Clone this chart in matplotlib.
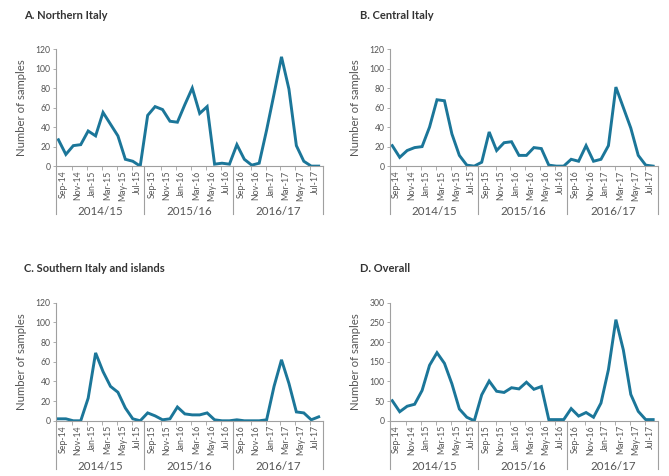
"""Monthly number of samples by area, Italy, Sep 2014 - Aug 2017."""

import matplotlib.pyplot as plt

plt.rcParams["font.family"] = ["Lato", "DejaVu Sans"]

months = [
    "Sep-14", "Oct-14", "Nov-14", "Dec-14", "Jan-15", "Feb-15",
    "Mar-15", "Apr-15", "May-15", "Jun-15", "Jul-15", "Aug-15",
    "Sep-15", "Oct-15", "Nov-15", "Dec-15", "Jan-16", "Feb-16",
    "Mar-16", "Apr-16", "May-16", "Jun-16", "Jul-16", "Aug-16",
    "Sep-16", "Oct-16", "Nov-16", "Dec-16", "Jan-17", "Feb-17",
    "Mar-17", "Apr-17", "May-17", "Jun-17", "Jul-17", "Aug-17",
]
seasons = ["2014/15", "2015/16", "2016/17"]

northern = [27, 12, 21, 22, 36, 31, 55, 43, 31, 7, 5, 0,
            52, 61, 58, 46, 45, 63, 80, 54, 61, 2, 3, 2,
            22, 7, 1, 3, 37, 74, 112, 79, 21, 5, 0, 0]
central = [21, 9, 16, 19, 20, 40, 68, 67, 33, 11, 1, 0,
           4, 35, 16, 24, 25, 11, 11, 19, 18, 1, 0, 0,
           7, 5, 21, 5, 7, 21, 81, 60, 39, 11, 1, 0]
southern = [2, 2, 0, 0, 23, 69, 50, 35, 29, 13, 2, 0,
            8, 5, 1, 2, 14, 7, 6, 6, 8, 1, 0, 0,
            1, 0, 0, 0, 1, 35, 62, 38, 9, 8, 1, 4]
overall = [51, 23, 37, 42, 77, 141, 173, 146, 94, 30, 9, 0,
           66, 101, 75, 72, 84, 81, 98, 80, 87, 3, 3, 3,
           31, 12, 21, 9, 45, 130, 257, 180, 67, 24, 3, 3]

panels = [
    ("A. Northern Italy", northern, 120, 20),
    ("B. Central Italy", central, 120, 20),
    ("C. Southern Italy and islands", southern, 120, 20),
    ("D. Overall", overall, 300, 50),
]

LINE = "#1b7699"
GREY = "#a0a0a0"
TEXT = "#555555"

fig = plt.figure(figsize=(6.69, 4.76), dpi=100)
rects = [
    [0.084, 0.651, 0.399, 0.246],
    [0.583, 0.651, 0.400, 0.246],
    [0.084, 0.116, 0.399, 0.248],
    [0.583, 0.116, 0.400, 0.248],
]
title_pos = [(0.036, 0.968), (0.538, 0.968), (0.036, 0.435), (0.538, 0.435)]

for (title, values, ymax, ystep), rect, tpos in zip(panels, rects, title_pos):
    ax = fig.add_axes(rect)
    x = list(range(len(months)))
    ax.plot(x, values, color=LINE, linewidth=2.1, solid_joinstyle="miter")

    ax.set_xlim(-0.3, 35.6)
    ax.set_ylim(0, ymax)
    ax.set_yticks(range(0, ymax + 1, ystep))
    ax.tick_params(axis="y", direction="out", length=2, width=0.6,
                   colors=GREY, labelcolor=TEXT, labelsize=6.2, pad=2)

    # every second month labelled, tick marks sit between the label pairs
    ax.set_xticks([i + 0.6 for i in x[::2]])
    ax.set_xticklabels(months[::2], rotation=90, fontsize=6.3, color=TEXT)
    ax.tick_params(axis="x", length=0, pad=3)
    ax.set_xticks([s * 12 + k + 1.85 for s in range(3) for k in range(0, 10, 2)],
                  minor=True)
    ax.tick_params(axis="x", which="minor", direction="out", length=3,
                   width=0.6, color=GREY)

    for side in ["top", "right"]:
        ax.spines[side].set_visible(False)
    for side in ["left", "bottom"]:
        ax.spines[side].set_color(GREY)
        ax.spines[side].set_linewidth(0.8)

    # season group separators and labels under the month labels
    trans = ax.get_xaxis_transform()
    for sx in [-0.3, 11.5, 23.5, 35.6]:
        ax.plot([sx, sx], [0, -0.41], color=GREY, linewidth=0.8,
                transform=trans, clip_on=False)
    for i, season in enumerate(seasons):
        ax.text(i * 12 + 5.6, -0.385, season, transform=trans, ha="center",
                va="center", fontsize=8.3, color=TEXT)

    ax.set_ylabel("Number of samples", fontsize=8.2, color=TEXT, labelpad=6)
    fig.text(tpos[0], tpos[1], title, fontsize=8, fontweight="bold",
             color="#333333", va="center")

fig.savefig("out.png", dpi=100)
